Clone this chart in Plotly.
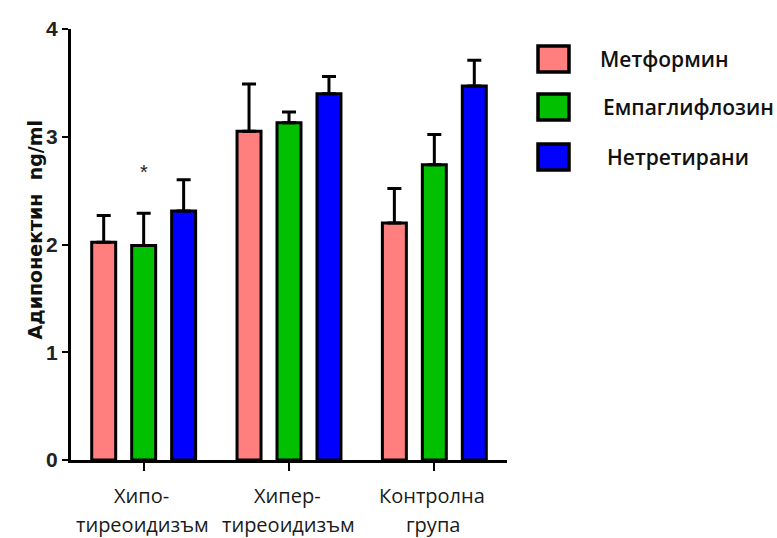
import plotly.graph_objects as go

# Group labels (x axis) and series
groups = ["Хипотиреоидизъм", "Хипертиреоидизъм", "Контролна група"]
group_line1 = ["Хипо-", "Хипер-", "Контролна"]
group_line2 = ["тиреоидизъм", "тиреоидизъм", "група"]

series_names = ["Метформин", "Емпаглифлозин", "Нетретирани"]
series_colors = ["#FF7F7F", "#00C000", "#0000FF"]

metformin = [2.02, 3.05, 2.20]
empagliflozin = [1.99, 3.13, 2.74]
untreated = [2.31, 3.40, 3.47]

metformin_err = [0.25, 0.44, 0.32]
empagliflozin_err = [0.30, 0.10, 0.28]
untreated_err = [0.29, 0.16, 0.24]

y_ticks = [0, 1, 2, 3, 4]
y_title = "Адипонектин  ng/ml"

# significance mark above the empagliflozin bar in the first group
star_group = 0
star_y = 2.67

values = [metformin, empagliflozin, untreated]
errors = [metformin_err, empagliflozin_err, untreated_err]

fig = go.Figure()
for name, color, vals, errs in zip(series_names, series_colors, values, errors):
    fig.add_trace(go.Bar(
        x=list(range(len(groups))),
        y=vals,
        name=name,
        marker=dict(color=color, line=dict(color="black", width=3)),
        error_y=dict(type="data", array=errs, arrayminus=[0] * len(errs),
                     symmetric=False, color="black", thickness=3, width=7),
        showlegend=False,
    ))

text_font = dict(family="Open Sans, Liberation Sans, sans-serif", size=20, color="#1a1a1a")

# two-line group labels under the x axis
for i, (a, b) in enumerate(zip(group_line1, group_line2)):
    fig.add_annotation(x=i, y=0, xref="x", yref="paper", text=a, showarrow=False,
                       yanchor="middle", yshift=-35, xshift=-2, font=text_font)
    fig.add_annotation(x=i, y=0, xref="x", yref="paper", text=b, showarrow=False,
                       yanchor="middle", yshift=-64, xshift=-1, font=text_font)

# y axis title
fig.add_annotation(x=0, y=0.535, xref="paper", yref="paper", text=y_title,
                   textangle=-90, showarrow=False, xshift=-49,
                   font=dict(family="DejaVu Sans, Liberation Sans, sans-serif", size=19,
                             color="#111", weight="bold"))

# significance star
fig.add_annotation(x=star_group, y=star_y, xref="x", yref="y", text="*",
                   showarrow=False, font=dict(family="Liberation Sans", size=20, color="#222"))

# legend drawn as framed swatches with labels to the right of the plot
legend_y = [59, 107, 157]
legend_text_x = [598, 601, 605]
for name, color, yc, tx in zip(series_names, series_colors, legend_y, legend_text_x):
    fig.add_shape(type="rect", xref="paper", yref="paper",
                  x0=(538 - 71) / 436, x1=(569 - 71) / 436,
                  y0=(460 - (yc + 13)) / 431, y1=(460 - (yc - 13)) / 431,
                  fillcolor=color, line=dict(color="black", width=3.5))
    fig.add_annotation(xref="paper", yref="paper", x=(tx - 71) / 436, y=(460 - yc) / 431,
                       text=name, showarrow=False, xanchor="left", yanchor="middle",
                       font=dict(family="Open Sans, Liberation Sans, sans-serif", size=21,
                                 color="#111", weight=600))

fig.update_layout(
    width=777, height=538,
    margin=dict(l=71, r=270, t=29, b=78),
    paper_bgcolor="white", plot_bgcolor="white",
    barmode="group", bargap=0.175, bargroupgap=0.4,
    xaxis=dict(range=[-0.5, 2.5], tickvals=list(range(len(groups))),
               showticklabels=False, ticks="outside", ticklen=8, tickwidth=2,
               tickcolor="black", showline=True, linecolor="black", linewidth=3,
               showgrid=False, zeroline=False, fixedrange=True),
    yaxis=dict(range=[0, 4], tickvals=y_ticks, ticks="outside", ticklen=6,
               tickwidth=2, tickcolor="black", showline=True, linecolor="black",
               linewidth=3, showgrid=False, zeroline=False,
               tickfont=dict(family="Liberation Sans Narrow, Arial Narrow, Liberation Sans",
                             size=21, color="#222", weight="bold")),
)

fig.write_html("out.html")
